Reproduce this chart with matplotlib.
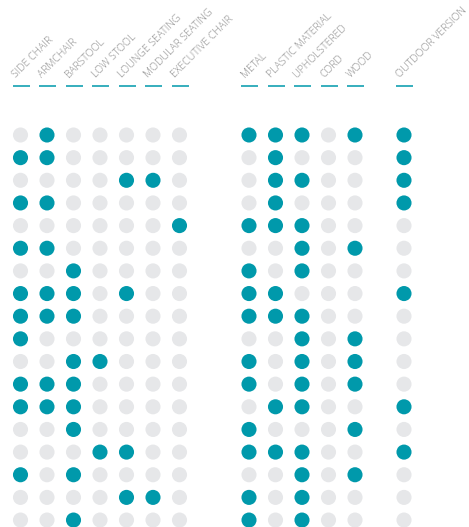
import matplotlib
matplotlib.use("Agg")
import matplotlib.pyplot as plt
import numpy as np

# ---- data ----
type_labels = ["SIDE CHAIR", "ARMCHAIR", "BARSTOOL", "LOW STOOL",
               "LOUNGE SEATING", "MODULAR SEATING", "EXECUTIVE CHAIR"]
material_labels = ["METAL", "PLASTIC MATERIAL", "UPHOLSTERED", "CORD", "WOOD"]
outdoor_labels = ["OUTDOOR VERSION"]

type_matrix = [
    [0, 1, 0, 0, 0, 0, 0],
    [1, 1, 0, 0, 0, 0, 0],
    [0, 0, 0, 0, 1, 1, 0],
    [1, 1, 0, 0, 0, 0, 0],
    [0, 0, 0, 0, 0, 0, 1],
    [1, 1, 0, 0, 0, 0, 0],
    [0, 0, 1, 0, 0, 0, 0],
    [1, 1, 1, 0, 1, 0, 0],
    [1, 1, 1, 0, 0, 0, 0],
    [1, 0, 0, 0, 0, 0, 0],
    [0, 0, 1, 1, 0, 0, 0],
    [1, 1, 1, 0, 0, 0, 0],
    [1, 1, 1, 0, 0, 0, 0],
    [0, 0, 1, 0, 0, 0, 0],
    [0, 0, 0, 1, 1, 0, 0],
    [1, 0, 1, 0, 0, 0, 0],
    [0, 0, 0, 0, 1, 1, 0],
    [0, 0, 1, 0, 0, 0, 0],
]
material_matrix = [
    [1, 1, 1, 0, 1],
    [0, 1, 0, 0, 0],
    [0, 1, 1, 0, 0],
    [0, 1, 0, 0, 0],
    [1, 1, 1, 0, 0],
    [0, 0, 1, 0, 1],
    [1, 0, 1, 0, 0],
    [1, 1, 0, 0, 0],
    [1, 1, 1, 0, 0],
    [0, 0, 1, 0, 1],
    [1, 0, 1, 0, 1],
    [1, 0, 1, 0, 1],
    [0, 1, 1, 0, 0],
    [1, 0, 0, 0, 1],
    [1, 1, 1, 0, 0],
    [0, 0, 1, 0, 1],
    [1, 0, 1, 0, 0],
    [1, 0, 1, 0, 0],
]
outdoor_values = [1, 1, 1, 1, 0, 0, 0, 1, 0, 0, 0, 0, 1, 0, 1, 0, 0, 0]

# ---- layout ----
W, H = 469, 527
fig = plt.figure(figsize=(W / 100, H / 100), dpi=100)
ax = fig.add_axes([0, 0, 1, 1])
ax.set_xlim(0, W)
ax.set_ylim(H, 0)
ax.axis("off")

TEAL = "#0099ab"
GREY = "#e6e7e9"
TEXT = "#8a8a8a"
step_x = 26.5
row0, step_y = 135, 22.65
group_starts = [20.5, 249, 404]

groups = [
    (type_labels, np.array(type_matrix)),
    (material_labels, np.array(material_matrix)),
    (outdoor_labels, np.array(outdoor_values).reshape(-1, 1)),
]

for (labels, mat), x0 in zip(groups, group_starts):
    nrows, ncols = mat.shape
    xs = x0 + np.arange(ncols) * step_x
    ys = row0 + np.arange(nrows) * step_y
    XX, YY = np.meshgrid(xs, ys)
    colors = np.where(mat.ravel() == 1, TEAL, GREY)
    ax.scatter(XX.ravel(), YY.ravel(), s=118, c=colors, linewidths=0,
               zorder=2)
    for x, lab in zip(xs, labels):
        ax.text(x - 4.5, 78, lab, rotation=45, rotation_mode="anchor",
                ha="left", va="baseline", fontsize=7.6, color=TEXT,
                family="Open Sans", fontweight="light")
        ax.plot([x - 8, x + 9], [86, 86], color=TEAL, lw=1.1,
                solid_capstyle="butt")

fig.savefig("out.png", dpi=100)
